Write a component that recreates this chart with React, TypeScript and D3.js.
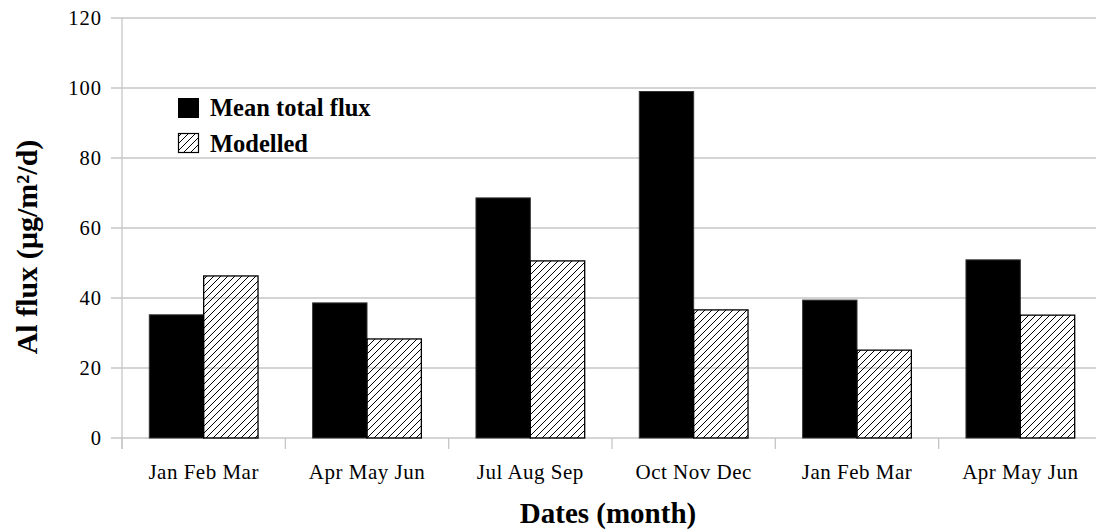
import React from "react";
import * as d3 from "d3";

const categories = ["Jan Feb Mar", "Apr May Jun", "Jul Aug Sep", "Oct Nov Dec", "Jan Feb Mar", "Apr May Jun"];
const meanTotalFlux = [35.2, 38.6, 68.6, 99.0, 39.4, 50.9];
const modelled = [46.3, 28.3, 50.6, 36.6, 25.1, 35.1];
const yTicks = [0, 20, 40, 60, 80, 100, 120];
const seriesNames = ["Mean total flux", "Modelled"];

const W = 1096;
const H = 532;
const left = 122;
const right = 1102;
const top = 18;
const bottom = 438;

export default function App() {
  const keys = categories.map((_, i) => String(i));
  const x = d3.scaleBand<string>().domain(keys).range([left, right]).paddingInner(0).paddingOuter(0);
  const inner = d3.scaleBand<string>().domain(["a", "b"]).range([27.3, x.bandwidth() - 27.3]);
  const y = d3.scaleLinear().domain([0, 120]).range([bottom, top]);
  const serif = "'Liberation Serif', 'Times New Roman', serif";
  const grid = "#c6c6c6";

  return (
    <svg width={W} height={H} style={{ position: "absolute", left: 0, top: 0, background: "#fff" }} fontFamily={serif}>
      <defs>
        <pattern id="hatch" patternUnits="userSpaceOnUse" width="7" height="7">
          <path d="M0,7 L7,0 M-1.75,1.75 L1.75,-1.75 M5.25,8.75 L8.75,5.25" stroke="#000" strokeWidth="1" />
        </pattern>
      </defs>
      {yTicks.map((t) => (
        <g key={t}>
          <line x1={left - 11} x2={W} y1={y(t)} y2={y(t)} stroke={grid} strokeWidth={1.3} />
          <text x={102} y={y(t)} dy="0.35em" textAnchor="end" fontSize={20.5} letterSpacing={1}>
            {t}
          </text>
        </g>
      ))}
      <line x1={left} x2={left} y1={top} y2={bottom + 11} stroke={grid} strokeWidth={1.3} />
      {keys.map((k) => (
        <line key={"t" + k} x1={x(k)!} x2={x(k)!} y1={bottom} y2={bottom + 11} stroke={grid} strokeWidth={1.3} />
      ))}
      {keys.map((k, i) => {
        const x0 = x(k)!;
        return (
          <g key={"b" + k}>
            <rect
              x={x0 + inner("a")!}
              y={y(meanTotalFlux[i])}
              width={inner.bandwidth()}
              height={bottom - y(meanTotalFlux[i])}
              fill="#000"
              stroke="#333"
              strokeWidth={1}
            />
            <rect
              x={x0 + inner("b")!}
              y={y(modelled[i])}
              width={inner.bandwidth()}
              height={bottom - y(modelled[i])}
              fill="url(#hatch)"
              stroke="#000"
              strokeWidth={1.3}
            />
            <text x={x0 + x.bandwidth() / 2} y={479} textAnchor="middle" fontSize={21} letterSpacing={0.5}>
              {categories[i]}
            </text>
          </g>
        );
      })}
      <g>
        <rect x={178} y={98} width={21} height={20} fill="#000" />
        <text x={210} y={116} fontSize={24.5} fontWeight="bold">
          {seriesNames[0]}
        </text>
        <rect x={178.5} y={133.5} width={20} height={19} fill="url(#hatch)" stroke="#000" strokeWidth={1.2} />
        <text x={210} y={152} fontSize={24.5} fontWeight="bold">
          {seriesNames[1]}
        </text>
      </g>
      <text x={608} y={523} textAnchor="middle" fontSize={29} fontWeight="bold">
        Dates (month)
      </text>
      <text transform="translate(37,247) rotate(-90)" textAnchor="middle" fontSize={30} fontWeight="bold">
        Al flux (µg/m²/d)
      </text>
    </svg>
  );
}
